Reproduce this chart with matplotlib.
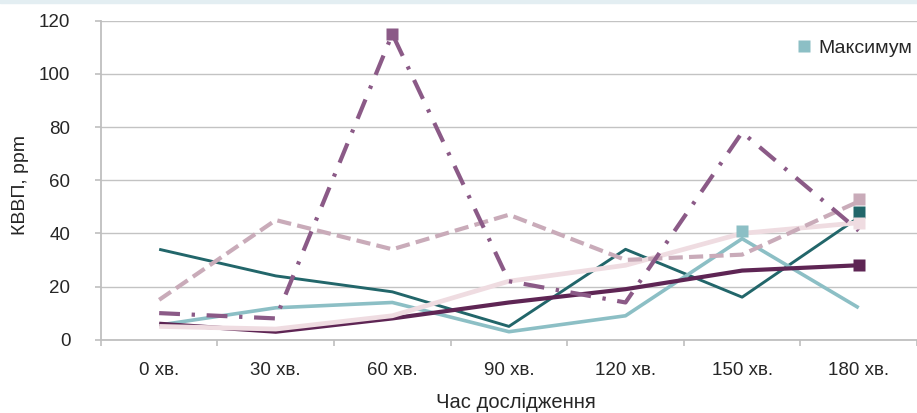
import matplotlib.pyplot as plt
from matplotlib.lines import Line2D
from matplotlib.patches import Rectangle

plt.rcParams['font.family'] = ['Liberation Sans', 'DejaVu Sans']

categories = ['0 хв.', '30 хв.', '60 хв.', '90 хв.', '120 хв.', '150 хв.', '180 хв.']

# series values
dark_teal = [34, 24, 18, 5, 34, 16, 46]
light_teal = [5.5, 12, 14, 3, 9, 38, 12]
dark_purple = [6, 3, 8, 14, 19, 26, 28]
light_pink = [5, 4, 9, 22, 28, 40, 44]
dusty_pink = [15, 45, 34, 47, 30, 32, 52]
purple_dashdot = [10, 8, 115, 22, 14, 78, 41]

# square markers ("Максимум") : category index and value for each series
max_idx = [6, 5, 6, 6, 6, 2]
max_val = [48, 41, 28, 44, 53, 115]

series = [dark_teal, light_teal, dark_purple, light_pink, dusty_pink, purple_dashdot]
colors = ['#22666a', '#8cbfc5', '#5e2554', '#efdce1', '#c9abb9', '#8b5a87']
widths = [2.1, 2.6, 3.0, 3.4, 3.0, 3.0]
dashes = [None, None, None, None, (3.4, 1.5), (5.0, 2.8, 0.8, 2.8)]

fig = plt.figure(figsize=(9.17, 4.13), dpi=100)
fig.patches.append(Rectangle((0, 0.992), 1, 0.008, transform=fig.transFigure,
                             color='#e3eef2', zorder=0))
ax = fig.add_axes([0.110, 0.1775, 0.890, 0.7724])

x = list(range(len(categories)))
for vals, c, lw, d in zip(series, colors, widths, dashes):
    line, = ax.plot(x, vals, color=c, lw=lw, solid_capstyle='butt', zorder=3)
    if d is not None:
        line.set_dashes(d)

for i, v, c in zip(max_idx, max_val, colors):
    ax.plot(x[i], v, marker='s', ms=9.2, color=c, mec='none', zorder=5)

ax.set_ylim(0, 120)
ax.set_xlim(-0.5, 6.47)
ax.set_yticks(range(0, 121, 20))
ax.set_xticks(x)
ax.set_xticklabels(categories)
ax.set_xticks([i - 0.5 for i in range(len(categories) + 1)], minor=True)

ax.grid(axis='y', color='#c3c3c3', lw=1.0)
ax.set_axisbelow(True)
for s in ['top', 'right']:
    ax.spines[s].set_visible(False)
for s in ['left', 'bottom']:
    ax.spines[s].set_color('#bfbfbf')
    ax.spines[s].set_linewidth(1.3)

ax.tick_params(axis='y', length=4, width=1.2, color='#bfbfbf', pad=18,
               labelsize=13.5, labelcolor='#262626')
ax.tick_params(axis='x', which='major', length=0, pad=16,
               labelsize=13.5, labelcolor='#262626')
ax.tick_params(axis='x', which='minor', length=4, width=1.2, color='#bfbfbf')

ax.set_ylabel('КВВП, ppm', fontsize=14, color='#262626')
ax.yaxis.set_label_coords(-0.088, 0.485)
ax.set_xlabel('Час дослідження', fontsize=14.5, color='#262626', va='top')
ax.xaxis.set_label_coords(0.508, -0.168)

handle = Line2D([], [], marker='s', ls='none', color='#8cbfc5', mec='none', ms=8.5)
ax.legend(handles=[handle], labels=['Максимум'], loc='center left',
          bbox_to_anchor=(798 / 917, 1 - 48.5 / 413), bbox_transform=fig.transFigure,
          frameon=False, fontsize=14, handlelength=0.6, handletextpad=0.45,
          borderpad=0, borderaxespad=0, labelcolor='#262626')

fig.savefig('out.png', dpi=100)
